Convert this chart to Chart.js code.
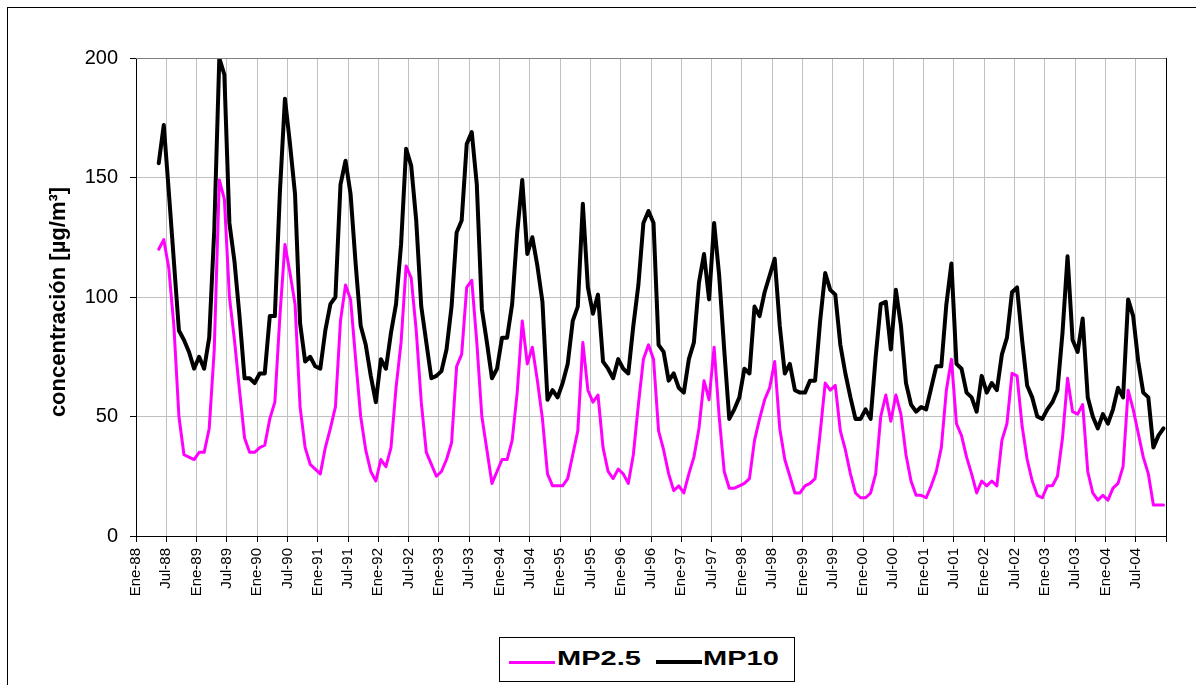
<!DOCTYPE html>
<html>
<head>
<meta charset="utf-8">
<script src="https://cdn.jsdelivr.net/npm/chart.js@4.4.1/dist/chart.umd.min.js"></script>
<style>
  html, body { margin:0; padding:0; background:#fff; }
  #wrap { position:relative; width:1196px; height:685px; overflow:hidden; background:#fff; }
  #frame { position:absolute; left:7px; top:7px; width:1300px; height:800px; border-left:1px solid #000; border-top:1px solid #000; pointer-events:none; }
  canvas { position:absolute; left:0; top:0; }
  #legend { position:absolute; left:499px; top:637px; width:296px; height:45px; border:1px solid #000; background:#fff; box-sizing:border-box; }
  .sw { position:absolute; }
  .lt { position:absolute; top:10px; font:bold 20px "Liberation Sans", Arial, sans-serif; line-height:20px; color:#000; white-space:nowrap; transform:scaleX(1.45); transform-origin:0 0; }
</style>
</head>
<body>
<div id="wrap">
  <canvas id="c" width="1196" height="685"></canvas>
  <div id="frame"></div>
  <div id="legend">
    <div class="sw" style="left:9px; top:23px; width:46px; height:3px; background:#FF00FF;"></div>
    <div class="lt" style="left:57px;">MP2.5</div>
    <div class="sw" style="left:156px; top:22px; width:46px; height:4px; background:#000;"></div>
    <div class="lt" style="left:203px;">MP10</div>
  </div>
</div>
<script>
// Tick labels (every 6 months, index 0 = Ene-88)
const tickLabels = ["Ene-88","Jul-88","Ene-89","Jul-89","Ene-90","Jul-90","Ene-91","Jul-91","Ene-92","Jul-92",
  "Ene-93","Jul-93","Ene-94","Jul-94","Ene-95","Jul-95","Ene-96","Jul-96","Ene-97","Jul-97",
  "Ene-98","Jul-98","Ene-99","Jul-99","Ene-00","Jul-00","Ene-01","Jul-01","Ene-02","Jul-02",
  "Ene-03","Jul-03","Ene-04","Jul-04"];
// first month of data: May-88 (month index 4 counted from Ene-88)
const firstMonth = 4;
const axisMonths = 204;

const mp25 = [
 120,124,112,88,50,34,33,32,35,35,45,78,149,141,100,82,61,41,35,35,
 37,38,49,56,92,122,110,97,54,37,30,28,26,37,45,54,90,105,99,74,
 50,36,27,23,32,29,37,62,81,113,108,86,56,35,30,25,27,32,39,71,
 76,104,107,81,50,36,22,27,32,32,40,60,90,72,79,65,49,26,21,21,
 21,24,34,44,81,61,56,59,37,27,24,28,26,22,34,55,74,80,74,44,
 36,26,19,21,18,26,33,45,65,57,79,50,27,20,20,21,22,24,40,49,
 57,62,73,45,32,25,18,18,21,22,24,43,64,61,63,44,36,26,18,16,
 16,18,26,50,59,48,59,51,34,23,17,17,16,21,27,37,61,74,47,42,
 33,26,18,23,21,23,21,40,47,68,67,46,32,23,17,16,21,21,25,41,
 66,52,51,55,27,18,15,17,15,20,22,29,61,53,43,33,26,13,13,13
];
const mp10 = [
 156,172,144,115,86,82,77,70,75,70,83,128,200,193,131,115,92,66,66,64,
 68,68,92,92,144,183,164,143,89,73,75,71,70,86,97,100,147,157,143,114,
 88,80,67,56,74,70,85,97,122,162,155,132,96,81,66,67,69,78,96,127,
 132,164,169,147,95,81,66,70,83,83,97,127,149,118,125,113,98,57,61,58,
 64,72,90,96,139,104,93,101,73,70,66,74,70,68,88,105,131,136,131,80,
 77,65,68,62,60,74,81,106,118,99,131,109,78,49,53,58,70,68,96,92,
 102,109,116,88,68,72,61,60,60,65,65,90,110,103,101,80,68,58,49,49,
 53,49,75,97,98,78,103,88,64,55,52,54,53,62,71,71,97,114,72,70,
 60,58,52,67,60,64,61,76,83,102,104,82,63,58,50,49,53,56,61,85,
 117,82,77,91,58,50,45,51,47,53,62,58,99,92,73,60,58,37,42,45
];

function toPoints(arr) {
  return arr.map((v, k) => ({ x: firstMonth + k + 0.5, y: v }));
}

const FONT = "'Liberation Sans', Arial, sans-serif";

const framePlugin = {
  id: 'framePlugin',
  afterDraw(chart) {
    const { ctx, chartArea: a } = chart;
    ctx.save();
    ctx.strokeStyle = '#808080';
    ctx.lineWidth = 1;
    ctx.beginPath();
    ctx.moveTo(a.left, a.top + 0.5);
    ctx.lineTo(a.right, a.top + 0.5);
    ctx.stroke();
    ctx.strokeStyle = '#000';
    ctx.beginPath();
    ctx.moveTo(a.right + 0.5, a.top);
    ctx.lineTo(a.right + 0.5, a.bottom);
    ctx.stroke();
    // y axis title
    ctx.translate(65, 302);
    ctx.rotate(-Math.PI / 2);
    ctx.fillStyle = '#000';
    ctx.font = "bold 22px " + FONT;
    ctx.textAlign = 'center';
    ctx.textBaseline = 'alphabetic';
    ctx.fillText('concentración [µg/m³]', 0, 0);
    ctx.restore();
  }
};

new Chart(document.getElementById('c'), {
  type: 'line',
  data: {
    datasets: [
      { label: 'MP2.5', data: toPoints(mp25), borderColor: '#FF00FF', borderWidth: 3, pointRadius: 0, tension: 0, borderJoinStyle: 'round', borderCapStyle: 'round', fill: false },
      { label: 'MP10', data: toPoints(mp10), borderColor: '#000000', borderWidth: 4, pointRadius: 0, tension: 0, borderJoinStyle: 'round', borderCapStyle: 'round', fill: false }
    ]
  },
  options: {
    responsive: false,
    animation: false,
    devicePixelRatio: 1,
    layout: { padding: { top: 58, right: 30, left: 0, bottom: 0 } },
    plugins: { legend: { display: false }, tooltip: { enabled: false } },
    scales: {
      x: {
        type: 'linear',
        min: 0,
        max: axisMonths,
        afterBuildTicks(scale) {
          const t = [];
          for (let v = 0; v <= axisMonths; v += 6) t.push({ value: v });
          scale.ticks = t;
        },
        afterFit(scale) { scale.height = 149; },
        ticks: {
          autoSkip: false,
          minRotation: 90,
          maxRotation: 90,
          padding: 6,
          color: '#000',
          font: { family: FONT, size: 15 },
          callback(v) { const i = Math.round(v / 6); return tickLabels[i] !== undefined ? tickLabels[i] : ''; }
        },
        grid: { color: '#c0c0c0', tickColor: '#000', tickLength: 6, lineWidth: 1 },
        border: { color: '#000', width: 1 }
      },
      y: {
        min: 0,
        max: 200,
        afterFit(scale) { scale.width = 136; },
        ticks: { stepSize: 50, padding: 12, color: '#000', font: { family: FONT, size: 20 } },
        grid: { color: '#c0c0c0', tickColor: '#000', tickLength: 6, lineWidth: 1 },
        border: { color: '#000', width: 1 }
      }
    }
  },
  plugins: [framePlugin]
});
</script>
</body>
</html>
